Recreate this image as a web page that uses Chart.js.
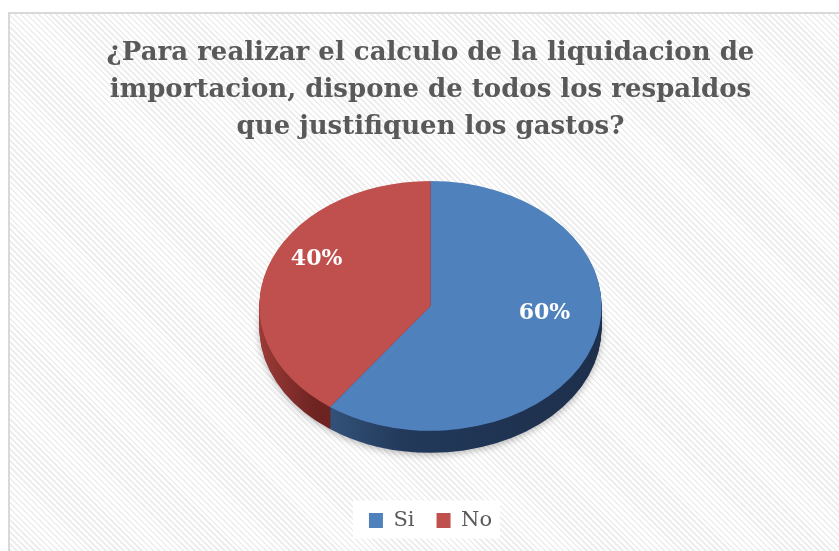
<!DOCTYPE html>
<html>
<head>
<meta charset="utf-8">
<script src="https://cdn.jsdelivr.net/npm/chart.js@4/dist/chart.umd.min.js"></script>
<style>
  html, body { margin: 0; padding: 0; background: #fff; overflow: hidden; }
  #wrap { position: relative; width: 839px; height: 551px; }
  #marco {
    position: absolute; left: 8px; top: 12px; width: 900px; height: 600px;
    border: 2px solid #d9d9d9;
    background: repeating-linear-gradient(45deg, #fff 0 2.4px, #eeeeee 2.4px 4.2px);
  }
  canvas { position: absolute; left: 0; top: 0; }
</style>
</head>
<body>
<div id="wrap">
  <div id="marco"></div>
  <canvas id="grafico" width="839" height="551"></canvas>
</div>
<script>
const titulo = [
  '¿Para realizar el calculo de la liquidacion de',
  'importacion, dispone de todos los respaldos',
  'que justifiquen los gastos?'
];
const categorias = ['Si', 'No'];
const porcentajes = [60, 40];
const colores = ['#4F81BD', '#C0504D'];

const K = 0.73;     // aplastamiento vertical del disco
const PROF = 22;    // grosor del disco en px

// degradados del canto de cada porcion
function colorLado(ctx, i, x, r) {
  const g = ctx.createLinearGradient(x - r, 0, x + r, 0);
  if (i === 0) {
    g.addColorStop(0, '#3a5d88');
    g.addColorStop(0.17, '#36567e');
    g.addColorStop(0.42, '#22395a');
    g.addColorStop(1, '#1d2f4b');
  } else {
    g.addColorStop(0, '#9b3b38');
    g.addColorStop(0.17, '#6c2321');
    g.addColorStop(1, '#6c2321');
  }
  return g;
}

const pie3d = {
  id: 'pie3d',
  beforeDraw(chart) {
    // fondo blanco de la leyenda
    const lg = chart.legend;
    if (!lg || !lg.legendHitBoxes.length) return;
    const hb = lg.legendHitBoxes;
    const x0 = hb[0].left - 16, x1 = hb[hb.length - 1].left + hb[hb.length - 1].width + 8;
    const yc = hb[0].top + hb[0].height / 2;
    chart.ctx.save();
    chart.ctx.fillStyle = '#fff';
    chart.ctx.fillRect(x0, yc - 20, x1 - x0, 38);
    chart.ctx.restore();
  },
  beforeDatasetsDraw(chart) {
    const ctx = chart.ctx;
    const arcs = chart.getDatasetMeta(0).data;
    const { x, y, outerRadius: r } = arcs[0];
    const cy = y - PROF / 2;
    for (let d = PROF; d >= 1; d--) {
      ctx.save();
      if (d === PROF) {
        ctx.shadowColor = 'rgba(0,0,0,0.28)';
        ctx.shadowBlur = 7;
        ctx.shadowOffsetY = 2;
      }
      ctx.translate(0, cy + d); ctx.scale(1, K); ctx.translate(0, -y);
      arcs.forEach((a, i) => {
        ctx.fillStyle = colorLado(ctx, i, x, r);
        ctx.beginPath();
        ctx.moveTo(x, y);
        ctx.arc(x, y, r, a.startAngle, a.endAngle);
        ctx.closePath();
        ctx.fill();
      });
      ctx.restore();
    }
    // cara superior: la dibuja Chart.js con esta transformacion
    ctx.save();
    ctx.translate(0, cy); ctx.scale(1, K); ctx.translate(0, -y);
  },
  afterDatasetsDraw(chart) {
    const ctx = chart.ctx;
    ctx.restore();
    const arcs = chart.getDatasetMeta(0).data;
    const { x, y, outerRadius: r } = arcs[0];
    const cy = y - PROF / 2;
    ctx.save();
    ctx.font = 'bold 22px "DejaVu Serif"';
    ctx.fillStyle = '#fff';
    ctx.textAlign = 'center';
    ctx.textBaseline = 'middle';
    arcs.forEach((a, i) => {
      const m = (a.startAngle + a.endAngle) / 2;
      const lx = x + Math.cos(m) * r * 0.7;
      const ly = cy + Math.sin(m) * r * 0.7 * K - 20;
      ctx.fillText(porcentajes[i] + '%', lx, ly);
    });
    ctx.restore();
  }
};

new Chart(document.getElementById('grafico'), {
  type: 'pie',
  data: {
    labels: categorias,
    datasets: [{
      data: porcentajes,
      backgroundColor: colores,
      borderWidth: 0,
      hoverOffset: 0,
      offset: 0
    }]
  },
  options: {
    responsive: false,
    animation: false,
    layout: { padding: { left: 22, right: 0, top: 0, bottom: 10 } },
    plugins: {
      title: {
        display: true,
        text: titulo,
        color: '#595959',
        font: { family: '"DejaVu Serif"', size: 26, weight: 'bold', lineHeight: 1.42 },
        padding: { top: 35, bottom: 0 }
      },
      legend: {
        position: 'bottom',
        labels: {
          boxWidth: 14,
          boxHeight: 15,
          padding: 22,
          color: '#595959',
          font: { family: '"DejaVu Serif"', size: 21 }
        }
      },
      tooltip: { enabled: false }
    }
  },
  plugins: [pie3d]
});
</script>
</body>
</html>
